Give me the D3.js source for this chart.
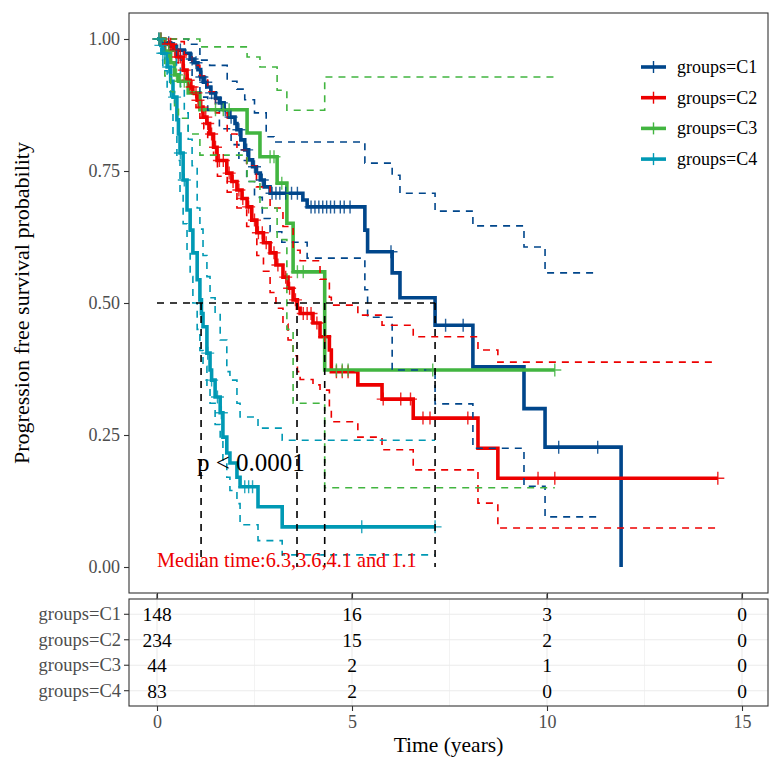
<!DOCTYPE html>
<html><head><meta charset="utf-8">
<script src="https://cdn.jsdelivr.net/npm/d3@7"></script>
<style>body{margin:0;background:#fff}svg{display:block}</style>
</head><body>
<svg id="chart" width="769" height="758"></svg>
<script>
// ---------------- DATA ----------------
const groups = ["C1", "C2", "C3", "C4"];
const legendLabels = ["groups=C1", "groups=C2", "groups=C3", "groups=C4"];
const colors = ["#00468B", "#ED0000", "#42B540", "#0099B4"];
const yTicks = [0, 0.25, 0.5, 0.75, 1];
const xTicks = [0, 5, 10, 15];

// step points [time, survival after drop]
const c1Surv = [[0.15,0.993],[0.35,0.986],[0.5,0.979],[0.7,0.973],[0.85,0.962],[0.95,0.955],[1.05,0.942],[1.12,0.928],[1.2,0.918],[1.28,0.909],[1.38,0.898],[1.5,0.888],[1.6,0.879],[1.72,0.866],[1.85,0.852],[2.0,0.84],[2.05,0.828],[2.15,0.809],[2.25,0.79],[2.35,0.771],[2.45,0.758],[2.55,0.746],[2.65,0.733],[2.75,0.72],[2.9,0.708],[3.74,0.695],[3.85,0.682],[5.33,0.638],[5.4,0.597],[6.03,0.557],[6.23,0.51],[7.13,0.458],[8.1,0.379],[9.41,0.30],[9.95,0.227],[11.9,0.0]];
const c1Upper = [[0.8,0.99],[1.1,0.96],[1.35,0.95],[1.8,0.92],[2.05,0.905],[2.25,0.885],[2.5,0.86],[2.8,0.815],[3.0,0.805],[5.33,0.765],[6.03,0.742],[6.23,0.708],[7.13,0.674],[8.1,0.646],[9.41,0.606],[9.95,0.557]];
const c1Lower = [[0.3,0.98],[0.6,0.96],[0.9,0.93],[1.1,0.89],[1.3,0.865],[1.6,0.83],[1.9,0.80],[2.1,0.77],[2.3,0.73],[2.5,0.70],[2.7,0.66],[2.9,0.635],[3.2,0.615],[3.85,0.585],[5.33,0.525],[5.4,0.473],[6.03,0.373],[7.13,0.309],[8.1,0.225],[9.41,0.153],[9.95,0.095]];
const c1Censor = [0.1,0.3,0.5,0.6,0.9,1.0,1.15,1.25,1.4,1.5,1.65,1.75,1.9,2.1,2.3,2.5,2.7,2.95,3.05,3.15,3.3,3.45,3.6,3.95,4.05,4.15,4.25,4.35,4.45,4.55,4.7,4.8,4.95,6.0,7.4,7.85,10.3,11.3];

const c2Surv = [[0.2,0.99],[0.41,0.979],[0.51,0.966],[0.67,0.941],[0.77,0.922],[0.85,0.909],[0.92,0.898],[1.03,0.884],[1.1,0.871],[1.18,0.852],[1.28,0.84],[1.35,0.82],[1.45,0.795],[1.54,0.77],[1.79,0.746],[1.92,0.73],[2.05,0.714],[2.18,0.698],[2.31,0.682],[2.43,0.657],[2.56,0.633],[2.73,0.614],[2.9,0.595],[3.05,0.572],[3.23,0.549],[3.36,0.528],[3.49,0.506],[3.6,0.49],[3.67,0.48],[4.0,0.462],[4.18,0.436],[4.42,0.411],[4.47,0.37],[5.15,0.345],[5.77,0.318],[6.57,0.282],[8.23,0.225],[8.74,0.168]];
const c2Upper = [[0.5,0.995],[0.7,0.97],[0.9,0.95],[1.1,0.93],[1.3,0.9],[1.5,0.86],[1.8,0.82],[2.05,0.79],[2.3,0.76],[2.55,0.72],[2.9,0.68],[3.23,0.645],[3.49,0.60],[3.67,0.58],[4.18,0.545],[4.42,0.511],[4.47,0.496],[5.15,0.477],[5.77,0.458],[6.57,0.436],[8.23,0.411],[8.74,0.388]];
const c2Lower = [[0.3,0.98],[0.5,0.955],[0.7,0.925],[0.85,0.895],[1.0,0.87],[1.1,0.85],[1.2,0.83],[1.3,0.81],[1.45,0.78],[1.55,0.74],[1.8,0.71],[2.05,0.68],[2.3,0.645],[2.56,0.59],[2.73,0.56],[2.9,0.52],[3.05,0.49],[3.23,0.46],[3.36,0.43],[3.49,0.40],[3.6,0.37],[3.67,0.355],[4.0,0.345],[4.18,0.335],[4.42,0.30],[4.47,0.275],[5.15,0.246],[5.77,0.222],[6.57,0.184],[8.23,0.121],[8.74,0.074]];
const c2Censor = [0.05,0.1,0.2,0.3,0.35,0.45,0.55,0.6,0.7,0.8,0.9,1.0,1.05,1.15,1.25,1.3,1.4,1.5,1.6,1.7,1.85,1.95,2.1,2.2,2.35,2.5,2.6,2.7,2.8,3.0,3.1,3.3,3.4,3.55,3.75,3.85,3.95,4.1,4.3,4.6,4.75,4.9,5.8,6.25,6.5,6.82,7.0,7.97,9.77,10.2,14.38];

const c3Surv = [[0.2,0.977],[0.35,0.955],[0.45,0.932],[0.55,0.92],[0.8,0.898],[1.1,0.866],[2.31,0.822],[2.64,0.777],[3.08,0.727],[3.33,0.651],[3.49,0.559],[4.3,0.373]];
const c3Upper = [[0.4,1.0],[1.1,0.985],[2.31,0.966],[2.64,0.947],[3.08,0.903],[3.33,0.865],[4.3,0.928]];
const c3Lower = [[0.2,0.93],[0.35,0.9],[0.45,0.87],[0.55,0.85],[0.8,0.82],[1.1,0.78],[2.31,0.73],[2.64,0.68],[3.08,0.62],[3.33,0.45],[3.49,0.31],[4.3,0.15]];
const c3Censor = [0.05,0.1,0.3,0.5,0.6,0.7,1.5,1.7,1.85,2.9,3.0,3.2,3.6,3.75,4.6,4.75,4.9,7.07,10.2];

const c4Surv = [[0.1,0.988],[0.15,0.973],[0.26,0.947],[0.35,0.92],[0.41,0.89],[0.51,0.847],[0.55,0.82],[0.59,0.784],[0.67,0.733],[0.77,0.676],[0.85,0.638],[0.92,0.595],[1.03,0.544],[1.1,0.506],[1.14,0.48],[1.18,0.455],[1.28,0.405],[1.36,0.373],[1.4,0.354],[1.49,0.322],[1.62,0.292],[1.69,0.246],[1.79,0.216],[1.87,0.197],[2.05,0.17],[2.13,0.152],[2.59,0.114],[3.21,0.076]];
const c4Upper = [[0.3,0.99],[0.5,0.95],[0.6,0.91],[0.7,0.86],[0.8,0.81],[0.9,0.76],[1.03,0.68],[1.1,0.64],[1.18,0.59],[1.28,0.55],[1.36,0.51],[1.49,0.48],[1.62,0.43],[1.79,0.37],[1.87,0.354],[2.05,0.31],[2.13,0.284],[2.59,0.263],[3.21,0.24]];
const c4Lower = [[0.1,0.96],[0.15,0.94],[0.26,0.9],[0.35,0.86],[0.41,0.82],[0.51,0.77],[0.59,0.71],[0.67,0.65],[0.77,0.6],[0.85,0.55],[0.92,0.5],[1.03,0.45],[1.1,0.41],[1.18,0.38],[1.28,0.34],[1.36,0.31],[1.49,0.27],[1.62,0.24],[1.69,0.2],[1.79,0.17],[1.87,0.145],[2.05,0.12],[2.13,0.08],[2.59,0.05],[3.21,0.023]];
const c4Censor = [0.05,0.1,0.15,0.2,0.3,0.45,0.6,0.7,1.3,1.4,1.55,1.65,2.25,2.35,2.45,5.25,7.13];

const curveEnd = [11.9, 14.38, 10.2, 7.13];
const ciEnd = [11.3, 14.38, 10.2, 7.13];

const medianTimes = [7.13, 3.59, 4.3, 1.13];
const pText = "p < 0.0001";
const medianText = "Median time:6.3,3.6,4.1 and 1.1";

const riskTimes = [0, 5, 10, 15];
const riskC1 = [148, 16, 3, 0];
const riskC2 = [234, 15, 2, 0];
const riskC3 = [44, 2, 1, 0];
const riskC4 = [83, 2, 0, 0];

const yTitle = "Progression free survival probability";
const xTitle = "Time (years)";

// ---------------- DRAW ----------------
const surv = [c1Surv, c2Surv, c3Surv, c4Surv];
const upper = [c1Upper, c2Upper, c3Upper, c4Upper];
const lower = [c1Lower, c2Lower, c3Lower, c4Lower];
const censor = [c1Censor, c2Censor, c3Censor, c4Censor];
const risk = [riskC1, riskC2, riskC3, riskC4];

const FONT = "'Liberation Serif','Times New Roman',serif";
const svg = d3.select("#chart");
const L = 129, R = 768, T = 13, B = 593;
const TT = 599, TB = 706;

const x = d3.scaleLinear().domain([-28/39, (R-157)/39]).range([L, R]);
const y = d3.scaleLinear().domain([-0.04924, 1.04924]).range([B, T]);
const yr = d3.scaleLinear().domain([0.4, 4.6]).range([TB, TT]);

svg.append("rect").attr("x", L).attr("y", T).attr("width", R-L).attr("height", B-T)
  .attr("fill", "#fff").attr("stroke", "#333").attr("stroke-width", 1.1);

function stepAt(steps, t) {
  let v = 1;
  for (const s of steps) { if (s[0] <= t) v = s[1]; else break; }
  return v;
}
function pathPts(steps, end) {
  const pts = [[0, 1], ...steps];
  const last = pts[pts.length-1];
  if (last[0] < end) pts.push([end, last[1]]);
  return pts;
}
const line = d3.line().x(d => x(d[0])).y(d => y(d[1])).curve(d3.curveStepAfter);

const g = svg.append("g");
groups.forEach((gr, i) => {
  g.append("path").attr("d", line(pathPts(surv[i], curveEnd[i])))
    .attr("fill", "none").attr("stroke", colors[i]).attr("stroke-width", 3.6)
    .attr("stroke-linejoin", "miter");
});
groups.forEach((gr, i) => {
  [upper[i], lower[i]].forEach(ci => {
    g.append("path").attr("d", line(pathPts(ci, ciEnd[i])))
      .attr("fill", "none").attr("stroke", colors[i]).attr("stroke-width", 1.6)
      .attr("stroke-dasharray", "7,6");
  });
});
groups.forEach((gr, i) => {
  censor[i].forEach(t => {
    const cx = x(t), cy = y(stepAt(surv[i], t));
    g.append("path").attr("d", `M${cx-6.5},${cy}H${cx+6.5}M${cx},${cy-6.5}V${cy+6.5}`)
      .attr("stroke", colors[i]).attr("stroke-width", 1.4).attr("opacity", 0.85);
  });
});
const mmax = d3.max(medianTimes);
g.append("path").attr("d", `M${x(0)},${y(0.5)}H${x(mmax)}`)
  .attr("stroke", "#000").attr("stroke-width", 1.6).attr("stroke-dasharray", "7,6");
medianTimes.forEach(t => {
  g.append("path").attr("d", `M${x(t)},${y(0.5)}V${y(0)}`)
    .attr("stroke", "#000").attr("stroke-width", 1.6).attr("stroke-dasharray", "7,6");
});

svg.append("text").attr("x", 197).attr("y", 471).attr("font-family", FONT)
  .attr("font-size", 25).attr("fill", "#000").text(pText);
svg.append("text").attr("x", 157).attr("y", 567).attr("font-family", FONT)
  .attr("font-size", 20.3).attr("fill", "#ED0000").text(medianText);

const yAx = svg.append("g").attr("transform", `translate(${L},0)`)
  .call(d3.axisLeft(y).tickValues(yTicks).tickFormat(d3.format(".2f")).tickSize(5).tickPadding(4));
yAx.select(".domain").remove();
yAx.selectAll("line").attr("stroke", "#333").attr("stroke-width", 1.1);
yAx.selectAll("text").attr("font-family", FONT).attr("font-size", 18).attr("fill", "#4D4D4D");

const xTop = svg.append("g").attr("transform", `translate(0,${B})`)
  .call(d3.axisBottom(x).tickValues(xTicks).tickFormat("").tickSize(5));
xTop.select(".domain").remove();
xTop.selectAll("line").attr("stroke", "#333").attr("stroke-width", 1.1);

svg.append("text").attr("transform", `translate(29,${(T+B)/2}) rotate(-90)`)
  .attr("text-anchor", "middle").attr("font-family", FONT).attr("font-size", 22)
  .attr("fill", "#000").text(yTitle);

groups.forEach((gr, i) => {
  const ly = 67 + i * 30.7;
  svg.append("line").attr("x1", 641).attr("x2", 666).attr("y1", ly).attr("y2", ly)
    .attr("stroke", colors[i]).attr("stroke-width", 3.6);
  svg.append("path").attr("d", `M653.5,${ly-6}V${ly+6}`).attr("stroke", colors[i]).attr("stroke-width", 1.4);
  svg.append("text").attr("x", 677).attr("y", ly).attr("dy", "0.33em")
    .attr("font-family", FONT).attr("font-size", 18).attr("fill", "#000").text(legendLabels[i]);
});

// ---------------- risk table ----------------
svg.append("rect").attr("x", L).attr("y", TT).attr("width", R-L).attr("height", TB-TT).attr("fill", "#fff");
const gridX = [0, 2.5, 5, 7.5, 10, 12.5, 15];
gridX.forEach(t => {
  svg.append("line").attr("x1", x(t)).attr("x2", x(t)).attr("y1", TT).attr("y2", TB)
    .attr("stroke", "#EBEBEB").attr("stroke-width", t % 5 === 0 ? 1.1 : 0.6);
});
groups.forEach((gr, i) => {
  svg.append("line").attr("x1", L).attr("x2", R).attr("y1", yr(4-i)).attr("y2", yr(4-i))
    .attr("stroke", "#EBEBEB").attr("stroke-width", 1.1);
});
svg.append("rect").attr("x", L).attr("y", TT).attr("width", R-L).attr("height", TB-TT)
  .attr("fill", "none").attr("stroke", "#333").attr("stroke-width", 1.1);
groups.forEach((gr, i) => {
  riskTimes.forEach((t, j) => {
    svg.append("text").attr("x", x(t)).attr("y", yr(4-i)).attr("dy", "0.35em")
      .attr("text-anchor", "middle").attr("font-family", FONT).attr("font-size", 19.5)
      .attr("fill", "#000").text(risk[i][j]);
  });
  svg.append("text").attr("x", 121).attr("y", yr(4-i)).attr("dy", "0.33em")
    .attr("text-anchor", "end").attr("font-family", FONT).attr("font-size", 18.5)
    .attr("fill", "#4D4D4D").text(legendLabels[i]);
  svg.append("line").attr("x1", 124).attr("x2", L).attr("y1", yr(4-i)).attr("y2", yr(4-i))
    .attr("stroke", "#333").attr("stroke-width", 1.1);
});
xTicks.forEach(t => {
  svg.append("line").attr("x1", x(t)).attr("x2", x(t)).attr("y1", TT-5).attr("y2", TT)
    .attr("stroke", "#333").attr("stroke-width", 1.1);
});
const xBot = svg.append("g").attr("transform", `translate(0,${TB})`)
  .call(d3.axisBottom(x).tickValues(xTicks).tickSize(5).tickPadding(4));
xBot.select(".domain").remove();
xBot.selectAll("line").attr("stroke", "#333").attr("stroke-width", 1.1);
xBot.selectAll("text").attr("font-family", FONT).attr("font-size", 18).attr("fill", "#4D4D4D");

svg.append("text").attr("x", (L+R)/2).attr("y", 752).attr("text-anchor", "middle")
  .attr("font-family", FONT).attr("font-size", 21.5).attr("fill", "#000").text(xTitle);
</script>
</body></html>
